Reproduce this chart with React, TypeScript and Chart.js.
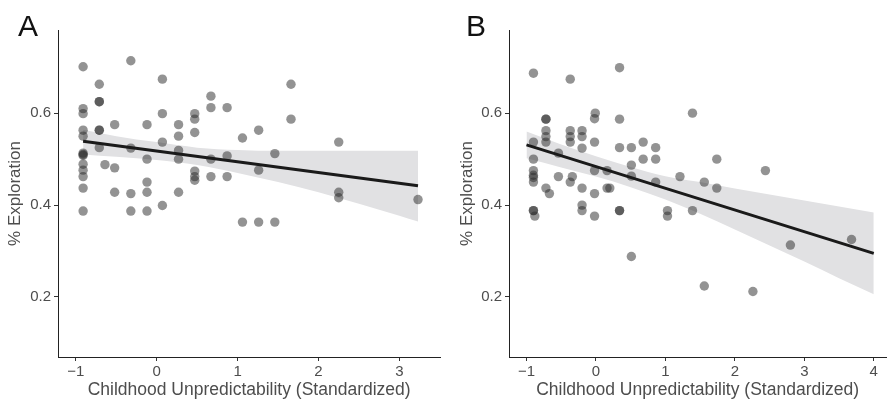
import React, { useEffect, useRef } from "react";
import { Chart, registerables } from "chart.js";

Chart.register(...registerables);

const FONT = "'Liberation Sans', Arial, Helvetica, sans-serif";

// ---- axis ticks ----
const xTicksA = [-1, 0, 1, 2, 3];
const xTicksB = [-1, 0, 1, 2, 3, 4];
const yTicks = [0.2, 0.4, 0.6];

// ---- Panel A points ----
const aX = [
  -0.91, -0.91, -0.91, -0.91, -0.91, -0.91, -0.91, -0.91, -0.91, -0.91, -0.91, -0.91, -0.91,
  -0.71, -0.71, -0.71, -0.71, -0.71, -0.71,
  -0.64,
  -0.52, -0.52, -0.52,
  -0.32, -0.32, -0.32, -0.32,
  -0.12, -0.12, -0.12, -0.12, -0.12,
  0.07, 0.07, 0.07, 0.07,
  0.27, 0.27, 0.27, 0.27, 0.27,
  0.47, 0.47, 0.47, 0.47, 0.47, 0.47,
  0.67, 0.67, 0.67, 0.67,
  0.87, 0.87, 0.87,
  1.06, 1.06,
  1.26, 1.26, 1.26,
  1.46, 1.46,
  1.66, 1.66,
  2.25, 2.25, 2.25,
  3.23,
];
const aY = [
  0.701, 0.61, 0.599, 0.563, 0.55, 0.513, 0.51, 0.508, 0.489, 0.476, 0.462, 0.437, 0.387,
  0.663, 0.625, 0.625, 0.563, 0.563, 0.525,
  0.488,
  0.575, 0.481, 0.428,
  0.714, 0.524, 0.425, 0.387,
  0.575, 0.5, 0.45, 0.428, 0.387,
  0.674, 0.599, 0.537, 0.399,
  0.575, 0.55, 0.519, 0.5, 0.428,
  0.599, 0.587, 0.558, 0.474, 0.462, 0.454,
  0.637, 0.612, 0.5, 0.462,
  0.612, 0.507, 0.462,
  0.546, 0.363,
  0.563, 0.476, 0.363,
  0.512, 0.363,
  0.663, 0.587,
  0.537, 0.428, 0.416,
  0.412,
];
const aLineX = [-0.91, 3.23];
const aLineY = [0.539, 0.442];
const aBandX = [-0.91, -0.5, 0, 0.5, 1, 1.5, 2, 2.5, 3, 3.23];
const aBandUpper = [0.564, 0.55, 0.537, 0.525, 0.52, 0.518, 0.518, 0.518, 0.518, 0.518];
const aBandLower = [0.51, 0.505, 0.498, 0.487, 0.47, 0.45, 0.428, 0.403, 0.377, 0.364];

// ---- Panel B points ----
const bX = [
  -0.9, -0.9, -0.9, -0.9, -0.9, -0.9, -0.9, -0.9, -0.9, -0.88,
  -0.72, -0.72, -0.72, -0.72, -0.72, -0.72,
  -0.67,
  -0.54, -0.54,
  -0.37, -0.37, -0.37, -0.37, -0.37, -0.34,
  -0.2, -0.2, -0.2, -0.2, -0.2, -0.2,
  -0.01, -0.02, -0.02, -0.02, -0.02, -0.02,
  0.16, 0.16, 0.2,
  0.34, 0.34, 0.34, 0.34, 0.34,
  0.51, 0.51, 0.51, 0.51,
  0.68, 0.68,
  0.86, 0.86, 0.86,
  1.03, 1.03,
  1.21,
  1.39, 1.39,
  1.56, 1.56,
  1.74, 1.74,
  2.26,
  2.44,
  2.8,
  3.68,
];
const bY = [
  0.687, 0.537, 0.5, 0.475, 0.465, 0.46, 0.45, 0.388, 0.388, 0.376,
  0.587, 0.587, 0.562, 0.549, 0.537, 0.437,
  0.425,
  0.513, 0.462,
  0.674, 0.562, 0.549, 0.537, 0.45, 0.462,
  0.562, 0.549, 0.524, 0.437, 0.4, 0.388,
  0.6, 0.588, 0.537, 0.475, 0.425, 0.376,
  0.475, 0.437, 0.437,
  0.699, 0.587, 0.525, 0.388, 0.388,
  0.525, 0.487, 0.463, 0.288,
  0.537, 0.5,
  0.525, 0.5, 0.45,
  0.388, 0.376,
  0.462,
  0.6, 0.388,
  0.45, 0.224,
  0.5, 0.437,
  0.212,
  0.475,
  0.313,
  0.325,
];
const bLineX = [-1.0, 4.0];
const bLineY = [0.531, 0.295];
const bBandX = [-1.0, -0.5, 0, 0.5, 1, 1.5, 2, 2.5, 3, 3.5, 4];
const bBandUpper = [0.56, 0.532, 0.506, 0.483, 0.463, 0.45, 0.436, 0.423, 0.41, 0.397, 0.384];
const bBandLower = [0.502, 0.482, 0.462, 0.439, 0.412, 0.381, 0.347, 0.312, 0.277, 0.241, 0.206];

const pts = (xs: number[], ys: number[]) => xs.map((x, i) => ({ x, y: ys[i] }));
const fmtNum = (v: number, d: number) => {
  const s = Math.abs(v).toFixed(d);
  return v < 0 ? "\u2212" + s : s;
};

type PanelCfg = {
  xs: number[];
  ys: number[];
  lineX: number[];
  lineY: number[];
  bandX: number[];
  bandUpper: number[];
  bandLower: number[];
  xTicks: number[];
  xMin: number;
  xMax: number;
  yAxisWidth: number;
  yTitlePad: number;
  rightPad: number;
};

function makeChart(canvas: HTMLCanvasElement, p: PanelCfg) {
  return new Chart(canvas, {
    type: "scatter",
    data: {
      datasets: [
        {
          type: "line",
          data: pts(p.bandX, p.bandUpper),
          borderColor: "transparent",
          borderWidth: 0,
          pointRadius: 0,
          backgroundColor: "#e1e1e3",
          fill: "+1",
          cubicInterpolationMode: "monotone",
          order: 3,
        },
        {
          type: "line",
          data: pts(p.bandX, p.bandLower),
          borderColor: "transparent",
          borderWidth: 0,
          pointRadius: 0,
          fill: false,
          cubicInterpolationMode: "monotone",
          order: 3,
        },
        {
          type: "scatter",
          data: pts(p.xs, p.ys),
          pointRadius: 4.7,
          pointHoverRadius: 4.7,
          backgroundColor: "rgba(40,40,40,0.5)",
          borderWidth: 0,
          order: 2,
        },
        {
          type: "line",
          data: pts(p.lineX, p.lineY),
          borderColor: "#1a1a1a",
          borderWidth: 3,
          pointRadius: 0,
          fill: false,
          order: 1,
        },
      ],
    } as any,
    options: {
      animation: false,
      responsive: false,
      maintainAspectRatio: false,
      events: [],
      layout: { padding: { top: 30, right: p.rightPad, left: 0, bottom: 0 } },
      plugins: { legend: { display: false }, tooltip: { enabled: false } },
      scales: {
        x: {
          type: "linear",
          min: p.xMin,
          max: p.xMax,
          afterBuildTicks: (s: any) => {
            s.ticks = p.xTicks.map((v) => ({ value: v }));
          },
          afterFit: (s: any) => {
            s.height = 42;
          },
          grid: {
            display: true,
            drawOnChartArea: false,
            drawTicks: true,
            tickLength: 4,
            color: "#333",
            lineWidth: 1,
          },
          border: { display: true, color: "#222", width: 1 },
          ticks: {
            color: "#4d4d4d",
            font: { size: 15, family: FONT },
            padding: 2,
            maxRotation: 0,
            autoSkip: false,
            callback: (v: any) => fmtNum(Number(v), 0),
          },
          title: {
            display: true,
            text: "Childhood Unpredictability (Standardized)",
            color: "#4d4d4d",
            font: { size: 17.5, family: FONT },
            padding: { top: 0, bottom: -2 },
          },
        },
        y: {
          type: "linear",
          min: 0.0694,
          max: 0.781,
          afterBuildTicks: (s: any) => {
            s.ticks = yTicks.map((v) => ({ value: v }));
          },
          afterFit: (s: any) => {
            s.width = p.yAxisWidth;
          },
          grid: {
            display: true,
            drawOnChartArea: false,
            drawTicks: true,
            tickLength: 4,
            color: "#333",
            lineWidth: 1,
          },
          border: { display: true, color: "#222", width: 1 },
          ticks: {
            color: "#4d4d4d",
            font: { size: 15, family: FONT },
            padding: 3,
            autoSkip: false,
            callback: (v: any) => fmtNum(Number(v), 1),
          },
          title: {
            display: true,
            text: "% Exploration",
            color: "#4d4d4d",
            font: { size: 17, family: FONT },
            padding: { top: p.yTitlePad, bottom: 0 },
          },
        },
      },
    } as any,
  });
}

function Panel(props: { cfg: PanelCfg; left: number; width: number; label: string; labelLeft: number }) {
  const ref = useRef<HTMLCanvasElement | null>(null);
  useEffect(() => {
    if (!ref.current) return;
    const ch = makeChart(ref.current, props.cfg);
    return () => ch.destroy();
  }, []);
  return (
    <>
      <canvas
        ref={ref}
        width={props.width}
        height={399}
        style={{ position: "absolute", left: props.left, top: 0, width: props.width, height: 399, display: "block" }}
      />
      <div
        style={{
          position: "absolute",
          left: props.labelLeft,
          top: 11,
          fontFamily: FONT,
          fontSize: 30,
          lineHeight: "30px",
          color: "#111",
        }}
      >
        {props.label}
      </div>
    </>
  );
}

export default function App() {
  const cfgA: PanelCfg = {
    xs: aX,
    ys: aY,
    lineX: aLineX,
    lineY: aLineY,
    bandX: aBandX,
    bandUpper: aBandUpper,
    bandLower: aBandLower,
    xTicks: xTicksA,
    xMin: -1.2204,
    xMax: 3.5056,
    yAxisWidth: 58,
    yTitlePad: 5,
    rightPad: 1,
  };
  const cfgB: PanelCfg = {
    xs: bX,
    ys: bY,
    lineX: bLineX,
    lineY: bLineY,
    bandX: bBandX,
    bandUpper: bBandUpper,
    bandLower: bBandLower,
    xTicks: xTicksB,
    xMin: -1.2517,
    xMax: 4.1806,
    yAxisWidth: 64,
    yTitlePad: 12,
    rightPad: 0,
  };
  return (
    <div style={{ position: "fixed", left: 0, top: 0, width: 891, height: 399, background: "#fff", overflow: "hidden" }}>
      <Panel cfg={cfgA} left={0} width={445} label="A" labelLeft={18} />
      <Panel cfg={cfgB} left={445} width={446} label="B" labelLeft={466} />
    </div>
  );
}
